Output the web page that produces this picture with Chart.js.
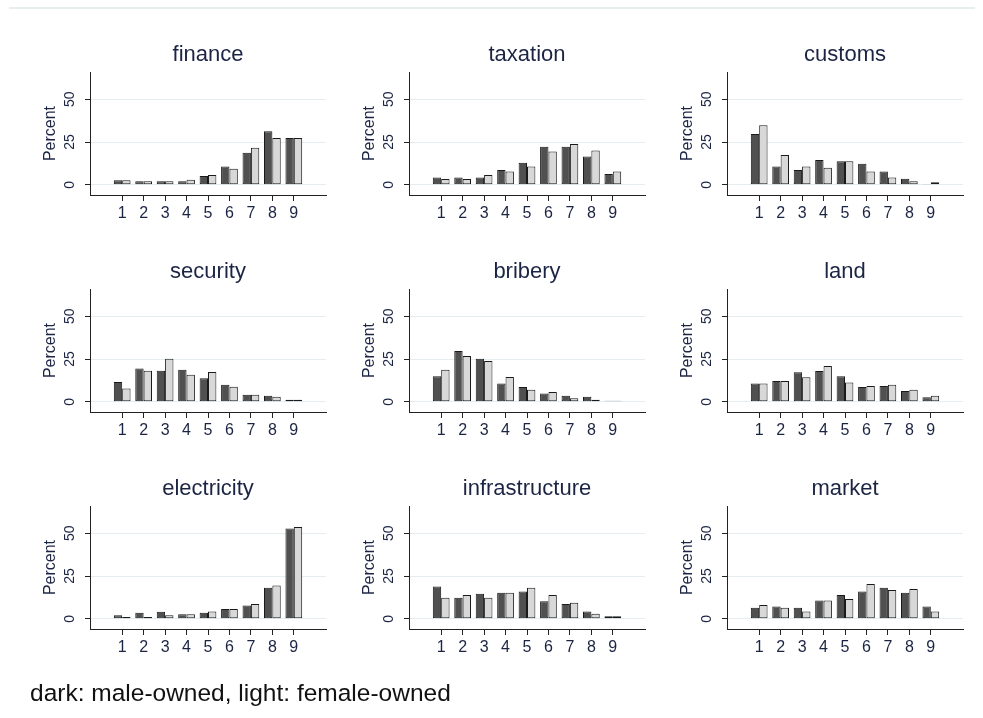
<!DOCTYPE html>
<html>
<head>
<meta charset="utf-8">
<script src="https://cdn.jsdelivr.net/npm/chart.js@4"></script>
<style>
  html, body { margin: 0; padding: 0; background: #fff; }
  body { width: 983px; height: 718px; position: relative; overflow: hidden; font-family: "Liberation Sans", Arial, sans-serif; }
  .topline { position: absolute; left: 9px; top: 7px; width: 966px; height: 2px; background: #e6eeef; }
  .panel { position: absolute; }
  .note { position: absolute; left: 30px; top: 681px; font-size: 24.5px; line-height: 1; color: #111; }
</style>
</head>
<body>
<div class="topline"></div>
<div id="grid"></div>
<div class="note">dark: male-owned, light: female-owned</div>

<script>
// --- DATOS ---
const categories = ['1', '2', '3', '4', '5', '6', '7', '8', '9'];
const yTicks = [0, 25, 50];
const panelTitles = ['finance', 'taxation', 'customs', 'security', 'bribery', 'land', 'electricity', 'infrastructure', 'market'];

const financeMale   = [2.7, 2.1, 2.1, 2.1, 5.1, 10.7, 18.8, 31.3, 27.3];
const financeFemale = [2.7, 2.1, 2.1, 2.9, 5.7, 9.4, 21.7, 27.3, 27.3];
const taxationMale   = [4.3, 4.3, 4.3, 8.6, 12.9, 22.3, 22.3, 16.6, 6.3];
const taxationFemale = [3.3, 3.3, 5.7, 7.8, 10.7, 19.5, 23.8, 20.1, 7.8];
const customsMale   = [29.7, 10.7, 8.6, 14.5, 13.7, 12.3, 7.8, 3.5, 0.4];
const customsFemale = [34.8, 17.4, 10.7, 10.0, 13.7, 7.8, 4.3, 2.1, 1.4];
const securityMale   = [11.5, 19.5, 18.2, 18.8, 13.7, 10.0, 4.1, 3.5, 1.2];
const securityFemale = [7.8, 18.2, 25.2, 15.8, 17.4, 8.8, 4.1, 2.9, 1.2];
const briberyMale   = [15.0, 29.7, 25.2, 10.7, 8.6, 4.9, 3.5, 2.9, 0.6];
const briberyFemale = [18.8, 26.8, 23.8, 14.5, 7.0, 5.7, 2.0, 1.2, 0.6];
const landMale   = [10.7, 12.1, 17.2, 18.0, 15.0, 8.6, 9.2, 6.3, 2.7];
const landFemale = [10.7, 12.1, 14.3, 20.9, 11.3, 9.2, 10.0, 7.0, 3.5];
const electricityMale   = [2.0, 3.5, 4.1, 2.7, 3.5, 5.7, 7.8, 18.2, 52.9];
const electricityFemale = [1.0, 1.0, 2.0, 2.7, 4.3, 5.7, 8.6, 19.5, 53.7];
const infrastructureMale   = [18.9, 12.3, 14.6, 15.2, 16.0, 10.2, 8.6, 4.3, 1.4];
const infrastructureFemale = [12.3, 13.9, 12.3, 15.2, 18.2, 13.9, 9.4, 2.9, 1.4];
const marketMale   = [6.4, 7.2, 6.4, 10.7, 13.9, 16.0, 18.2, 15.2, 7.2];
const marketFemale = [8.0, 6.4, 4.3, 10.7, 11.5, 20.3, 16.8, 17.4, 4.3];

const maleSeries = [financeMale, taxationMale, customsMale, securityMale, briberyMale, landMale, electricityMale, infrastructureMale, marketMale];
const femaleSeries = [financeFemale, taxationFemale, customsFemale, securityFemale, briberyFemale, landFemale, electricityFemale, infrastructureFemale, marketFemale];

// --- ESTILO ---
const FONT = '"Liberation Sans", Arial, sans-serif';
const TEXT = '#1c2444';
const AXIS = '#222';
const DARK = '#505050';
const LIGHT = '#d8d8d8';

// posiciones de las áreas de trazado
const areaLefts = [90, 409, 727];
const areaTops = [72, 289, 506];
const CW = 319, CH = 217, LEFT_W = 70, TOP_H = 42;

// título centrado sobre el área de trazado y etiquetas giradas del eje Y
const panelText = {
    id: 'panelText',
    afterDraw(chart, args, opts) {
        const { ctx, chartArea, scales } = chart;
        ctx.save();
        ctx.fillStyle = TEXT;
        ctx.textAlign = 'center';
        ctx.textBaseline = 'middle';
        ctx.font = '22px ' + FONT;
        ctx.fillText(opts.title, (chartArea.left + chartArea.right) / 2, chartArea.top - 17);
        ctx.font = '14px ' + FONT;
        yTicks.forEach(v => {
            const y = scales.y.getPixelForValue(v);
            ctx.save();
            ctx.translate(chartArea.left - 20, y);
            ctx.rotate(-Math.PI / 2);
            ctx.fillText(String(v), 0, 0);
            ctx.restore();
        });
        ctx.restore();
    }
};

const container = document.getElementById('grid');
// hueco vacío a cada lado de 1..9
const labels = ['', ...categories, ''];
const pad = arr => [null, ...arr, null];

panelTitles.forEach((title, i) => {
    const col = i % 3, row = Math.floor(i / 3);
    const canvas = document.createElement('canvas');
    canvas.className = 'panel';
    canvas.width = CW;
    canvas.height = CH;
    canvas.style.left = (areaLefts[col] - LEFT_W) + 'px';
    canvas.style.top = (areaTops[row] - TOP_H) + 'px';
    canvas.style.width = CW + 'px';
    canvas.style.height = CH + 'px';
    container.appendChild(canvas);

    new Chart(canvas.getContext('2d'), {
        type: 'bar',
        data: {
            labels: labels,
            datasets: [
                { data: pad(maleSeries[i]), backgroundColor: DARK, borderColor: '#1a1a1a', borderWidth: 1, borderSkipped: false },
                { data: pad(femaleSeries[i]), backgroundColor: LIGHT, borderColor: '#1a1a1a', borderWidth: 1, borderSkipped: false }
            ]
        },
        options: {
            responsive: false,
            animation: false,
            devicePixelRatio: 1,
            datasets: { bar: { categoryPercentage: 0.78, barPercentage: 1.0 } },
            layout: { padding: { left: 0, right: 13, top: TOP_H, bottom: 0 } },
            plugins: {
                legend: { display: false },
                tooltip: { enabled: false },
                title: { display: false },
                panelText: { title: title }
            },
            scales: {
                x: {
                    grid: {
                        offset: false,
                        drawOnChartArea: false,
                        drawTicks: true,
                        tickLength: 6,
                        tickColor: ctx => (ctx.index === 0 || ctx.index === labels.length - 1) ? 'rgba(0,0,0,0)' : AXIS
                    },
                    border: { color: AXIS, width: 1 },
                    ticks: { color: TEXT, font: { family: FONT, size: 16 }, padding: 3, autoSkip: false, maxRotation: 0 },
                    afterFit: scale => { scale.height = CH - TOP_H - 123; }
                },
                y: {
                    min: -6,
                    max: 66,
                    afterBuildTicks: scale => { scale.ticks = yTicks.map(v => ({ value: v })); },
                    grid: { color: '#e4eef0', lineWidth: 1, drawTicks: true, tickLength: 5, tickColor: AXIS },
                    border: { color: AXIS, width: 1 },
                    ticks: { display: false },
                    title: { display: true, text: 'Percent', color: TEXT, font: { family: FONT, size: 16 }, padding: { top: 21, bottom: 0 } },
                    afterFit: scale => { scale.width = LEFT_W; }
                }
            }
        },
        plugins: [panelText]
    });
});
</script>
</body>
</html>
